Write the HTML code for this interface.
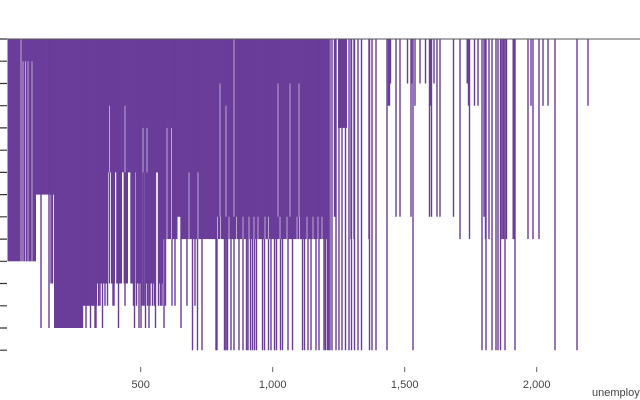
<!DOCTYPE html>
<html><head><meta charset="utf-8"><style>
html,body{margin:0;padding:0;background:#fff;width:640px;height:400px;overflow:hidden}
svg{display:block}
text{font-family:"Liberation Sans",sans-serif;font-size:11px;fill:#444}
</style></head><body>
<svg width="640" height="400" viewBox="0 0 640 400" xmlns="http://www.w3.org/2000/svg">
<rect width="640" height="400" fill="#fff"/>
<g fill="#6a3d9a">
<rect x="7.5" y="39" width="28.5" height="222.3"/>
<rect x="36" y="39" width="18" height="155.6"/>
<rect x="54" y="39" width="28" height="289"/>
<rect x="82" y="39" width="15" height="266.8"/>
<rect x="97" y="39" width="11" height="244.5"/>
<rect x="108" y="39" width="55" height="244.5"/>
<rect x="163" y="39" width="52" height="200.1"/>
<rect x="215" y="39" width="112" height="200.1"/>
<rect x="338" y="39" width="9" height="88.9"/>
<rect x="429" y="39" width="3" height="66.7"/>
<rect x="466.5" y="39" width="2" height="44.5"/>
<rect x="512.5" y="39" width="2" height="200.1"/>
</g>
<!-- white gaps in the 108-163 block between L6 and L11 -->
<g fill="#fff">
<rect x="108" y="172.4" width="3" height="111.1"/>
<rect x="115" y="172.4" width="1.2" height="111.1"/>
<rect x="122" y="172.4" width="1.6" height="111.1"/>
<rect x="128" y="172.4" width="2.3" height="111.1"/>
<rect x="134.5" y="172.4" width="1.2" height="111.1"/>
<rect x="142.5" y="172.4" width="2" height="111.1"/>
<rect x="148.5" y="172.4" width="2" height="111.1"/>
<rect x="156" y="172.4" width="2.5" height="111.1"/>
<rect x="177.5" y="216.8" width="3.5" height="22.3"/>
</g>
<path fill="none" stroke="#6a3d9a" stroke-width="1.4" d="
M41 39V328M49 39V328M51 39V283.5M52.5 39V283.5
M82.5 39V328M86 39V328M90.5 39V328M95 39V328
M96 39V328M98.5 39V305.8M100 39V305.8M102.5 39V328M105 39V305.8M107.5 39V305.8
M109.5 39V283.5M114 39V305.8M113 39V305.8M118.5 39V328M125 39V305.8M133.5 39V305.8M134.5 39V328M136.5 39V305.8M139 39V328M141 39V328
M142 39V305.8M143.5 39V305.8M145 39V305.8M145.5 39V328M147.5 39V305.8M149 39V328M150 39V305.8M152.5 39V305.8M154.5 39V305.8M155.5 39V328M158.5 39V305.8M160.5 39V305.8M162 39V305.8M164 39V328M165.5 39V305.8
M172 39V305.8M175 39V305.8M181 39V328M187 39V305.8M192.5 39V350.2M195 39V305.8M197.5 39V350.2M202 39V350.2M217 39V350.2
M216 39V350.2M224.5 39V350.2M226 39V350.2M227.5 39V350.2M231 39V350.2M234 39V350.2M239 39V350.2M243 39V350.2M246.5 39V350.2M248 39V350.2M250.5 39V350.2M252.5 39V350.2M254.5 39V350.2M256.5 39V350.2M262.5 39V350.2M264.5 39V350.2M268.5 39V350.2M271 39V350.2M274.5 39V350.2M276.5 39V350.2M280.5 39V350.2M282.5 39V350.2M288 39V350.2M292.5 39V350.2M302.5 39V350.2M304.5 39V350.2M308 39V350.2M311 39V350.2M316 39V350.2M319 39V350.2M324 39V350.2M325.5 39V350.2
M327.5 39V350.2M328.5 39V350.2M330 39V350.2M332 39V350.2M334.5 39V216.8M335.5 39V216.8M336 39V350.2M339 39V350.2M342 39V350.2M345.5 39V350.2M349 39V350.2M351 39V239.1M351.5 39V350.2M354 39V239.1M354.5 39V350.2M358 39V350.2M361.5 39V350.2M369 39V239.1M369.5 39V350.2M372 39V350.2M376 39V350.2M387 39V350.2M388.5 39V105.7M389.5 39V105.7M390.5 39V83.5M396 39V216.8M400 39V216.8
M407.5 39V83.5M411 39V216.8M411.5 39V83.5M413 39V350.2M415 39V105.7M420 39V83.5M425.5 39V83.5M429.5 39V216.8M431.5 39V216.8M434 39V83.5M437 39V216.8M440 39V216.8M453.5 39V216.8M460 39V239.1M468.5 39V105.7M469.5 39V239.1M474.5 39V105.7M478 39V105.7M482 39V350.2M484 39V216.8M485.5 39V239.1M486 39V350.2M489 39V239.1M492 39V350.2M496 39V350.2M498 39V350.2M500.5 39V350.2M502 39V239.1M503.5 39V239.1M505 39V350.2M506.5 39V239.1
M515 39V350.2M528 39V239.1M531 39V105.7M533 39V239.1M539 39V239.1M543 39V105.7M548 39V105.7M555 39V350.2M577 39V350.2M588 39V105.7"/>
<path fill="none" stroke="#fff" stroke-opacity="0.55" stroke-width="1" d="
M21 39V261.3M23 61.2V261.3M25.5 61.2V261.3M28 61.2V261.3M32 61.2V261.3
M109.5 105.7V172.4M125 105.7V172.4M143 127.9V172.4M147 127.9V172.4
M167 127.9V239.1M171.5 127.9V239.1M189 172.4V239.1M198 172.4V239.1
M220 83.5V216.8M226 105.7V216.8M234 39V216.8M278 83.5V216.8M290 83.5V216.8M299 83.5V216.8
M217.5 216.8V239.1M220.5 216.8V239.1M229 216.8V239.1M236.5 216.8V239.1M243 216.8V239.1M249 216.8V239.1M254 216.8V239.1M258 216.8V239.1M265 216.8V239.1M268.5 216.8V239.1M280 216.8V239.1M287 216.8V239.1M297 216.8V239.1M299.5 216.8V239.1M307 216.8V239.1M313 216.8V239.1M318 216.8V239.1M322 216.8V239.1"/>
<path fill="none" stroke="#555" stroke-width="1" d="M0 39H640"/>
<path fill="none" stroke="#333" stroke-width="1.2" d="M0 39H7M0 61.2H7M0 83.5H7M0 105.7H7M0 127.9H7M0 150.2H7M0 172.4H7M0 194.6H7M0 216.8H7M0 239.1H7M0 261.3H7M0 283.5H7M0 305.8H7M0 328H7M0 350.2H7"/>
<path fill="none" stroke="#666" stroke-width="1" d="M140.7 367V372M272.7 367V372M404.7 367V372M536.7 367V372"/>
<text x="140.7" y="388" text-anchor="middle">500</text>
<text x="272.7" y="388" text-anchor="middle">1,000</text>
<text x="404.7" y="388" text-anchor="middle">1,500</text>
<text x="536.7" y="388" text-anchor="middle">2,000</text>
<text x="592" y="396">unemploy</text>
</svg>
</body></html>
